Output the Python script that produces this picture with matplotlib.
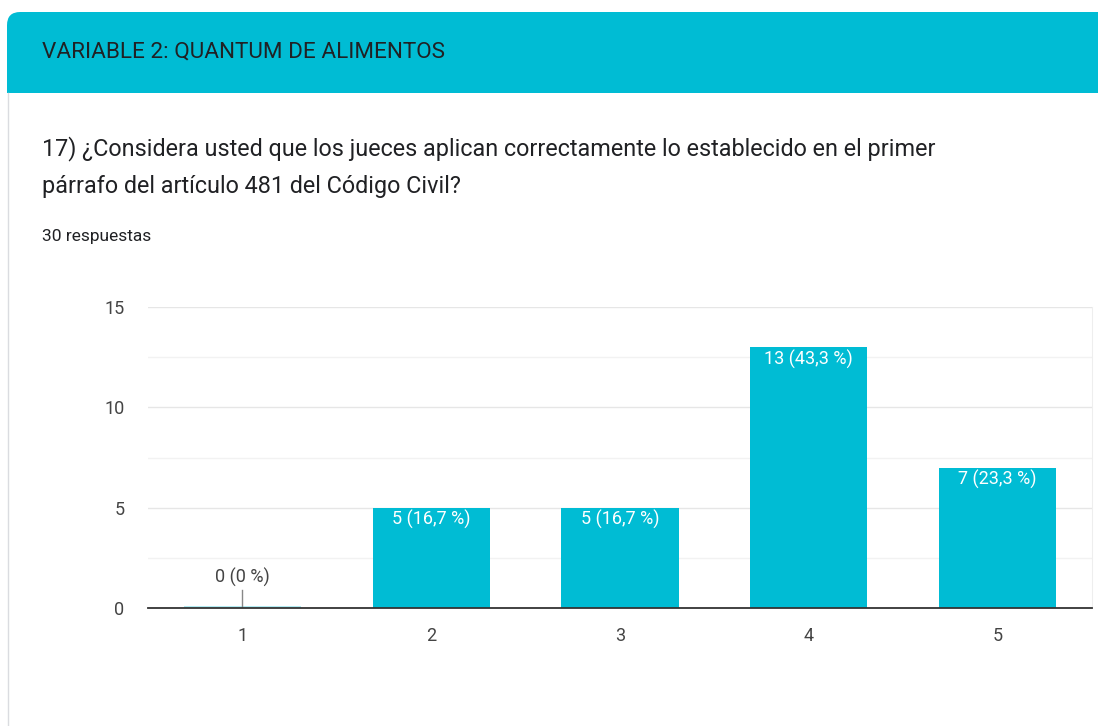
import matplotlib.pyplot as plt
from matplotlib.patches import FancyBboxPatch, Rectangle
from matplotlib.lines import Line2D
from matplotlib.ticker import MultipleLocator

categorias = ["1", "2", "3", "4", "5"]
respuestas = [0, 5, 5, 13, 7]
etiquetas = ["0 (0 %)", "5 (16,7 %)", "5 (16,7 %)", "13 (43,3 %)", "7 (23,3 %)"]

titulo_seccion = "VARIABLE 2: QUANTUM DE ALIMENTOS"
pregunta = ("17) ¿Considera usted que los jueces aplican correctamente lo establecido en el primer\n"
            "párrafo del artículo 481 del Código Civil?")
total = "30 respuestas"

teal = "#00BCD4"
plt.rcParams["font.family"] = ["Roboto", "DejaVu Sans"]

fig = plt.figure(figsize=(10.98, 7.26), dpi=100)
W, H = 1098, 726

# tarjeta: borde izquierdo y cabecera
fig.add_artist(Line2D([7.5 / W, 7.5 / W], [0, 1 - 93 / H], transform=fig.transFigure,
                      color="#dadce0", lw=1))
fig.add_artist(FancyBboxPatch((7 / W, 1 - 93 / H), 1.1, 81 / H,
                              boxstyle="round,pad=0,rounding_size=0.012",
                              transform=fig.transFigure, facecolor=teal, edgecolor="none",
                              mutation_aspect=W / H))
fig.add_artist(Rectangle((7 / W, 1 - 93 / H), 1.1, 40 / H, transform=fig.transFigure,
                         facecolor=teal, edgecolor="none"))
fig.text(42 / W, 1 - 52 / H, titulo_seccion, fontsize=16.2, color="#202124", va="center")
fig.text(42 / W, 1 - 167 / H, pregunta, fontsize=16.8, color="#202124", va="center",
         linespacing=1.8)
fig.text(42 / W, 1 - 237 / H, total, fontsize=12.5, color="#202124", va="center")

ax = fig.add_axes([148 / W, 1 - 608 / H, 944 / W, 301 / H])
x = list(range(1, len(categorias) + 1))
ax.bar(x, respuestas, width=0.62, color=teal, zorder=2)
ax.set_xlim(0.5, 5.5)
ax.set_ylim(0, 15)
ax.set_xticks(x)
ax.set_xticklabels(categorias)
ax.yaxis.set_major_locator(MultipleLocator(5))
ax.yaxis.set_minor_locator(MultipleLocator(2.5))
ax.grid(axis="y", which="major", color="#e6e6e6", lw=1, zorder=0)
ax.grid(axis="y", which="minor", color="#f2f2f2", lw=1, zorder=0)
ax.tick_params(axis="both", which="both", length=0, labelsize=13, colors="#444444")
ax.tick_params(axis="x", pad=14)
ax.tick_params(axis="y", pad=17)
for s in ["top", "left"]:
    ax.spines[s].set_visible(False)
ax.spines["right"].set_color("#eeeeee")
ax.spines["bottom"].set_color("#333333")
ax.spines["bottom"].set_linewidth(1.3)
ax.spines["bottom"].set_zorder(3)

for xi, v, et in zip(x, respuestas, etiquetas):
    if v == 0:
        ax.add_patch(Rectangle((xi - 0.31, 0), 0.62, 0.08, color="#b2ebf2", zorder=2, lw=0))
        ax.plot([xi, xi], [0, 0.9], color="#888888", lw=1, zorder=3)
        ax.text(xi, 1.5, et, ha="center", va="center", fontsize=13, color="#444444")
    else:
        ax.text(xi, v - 0.6, et, ha="center", va="center", fontsize=13, color="white")

fig.savefig("out.png", dpi=100)
